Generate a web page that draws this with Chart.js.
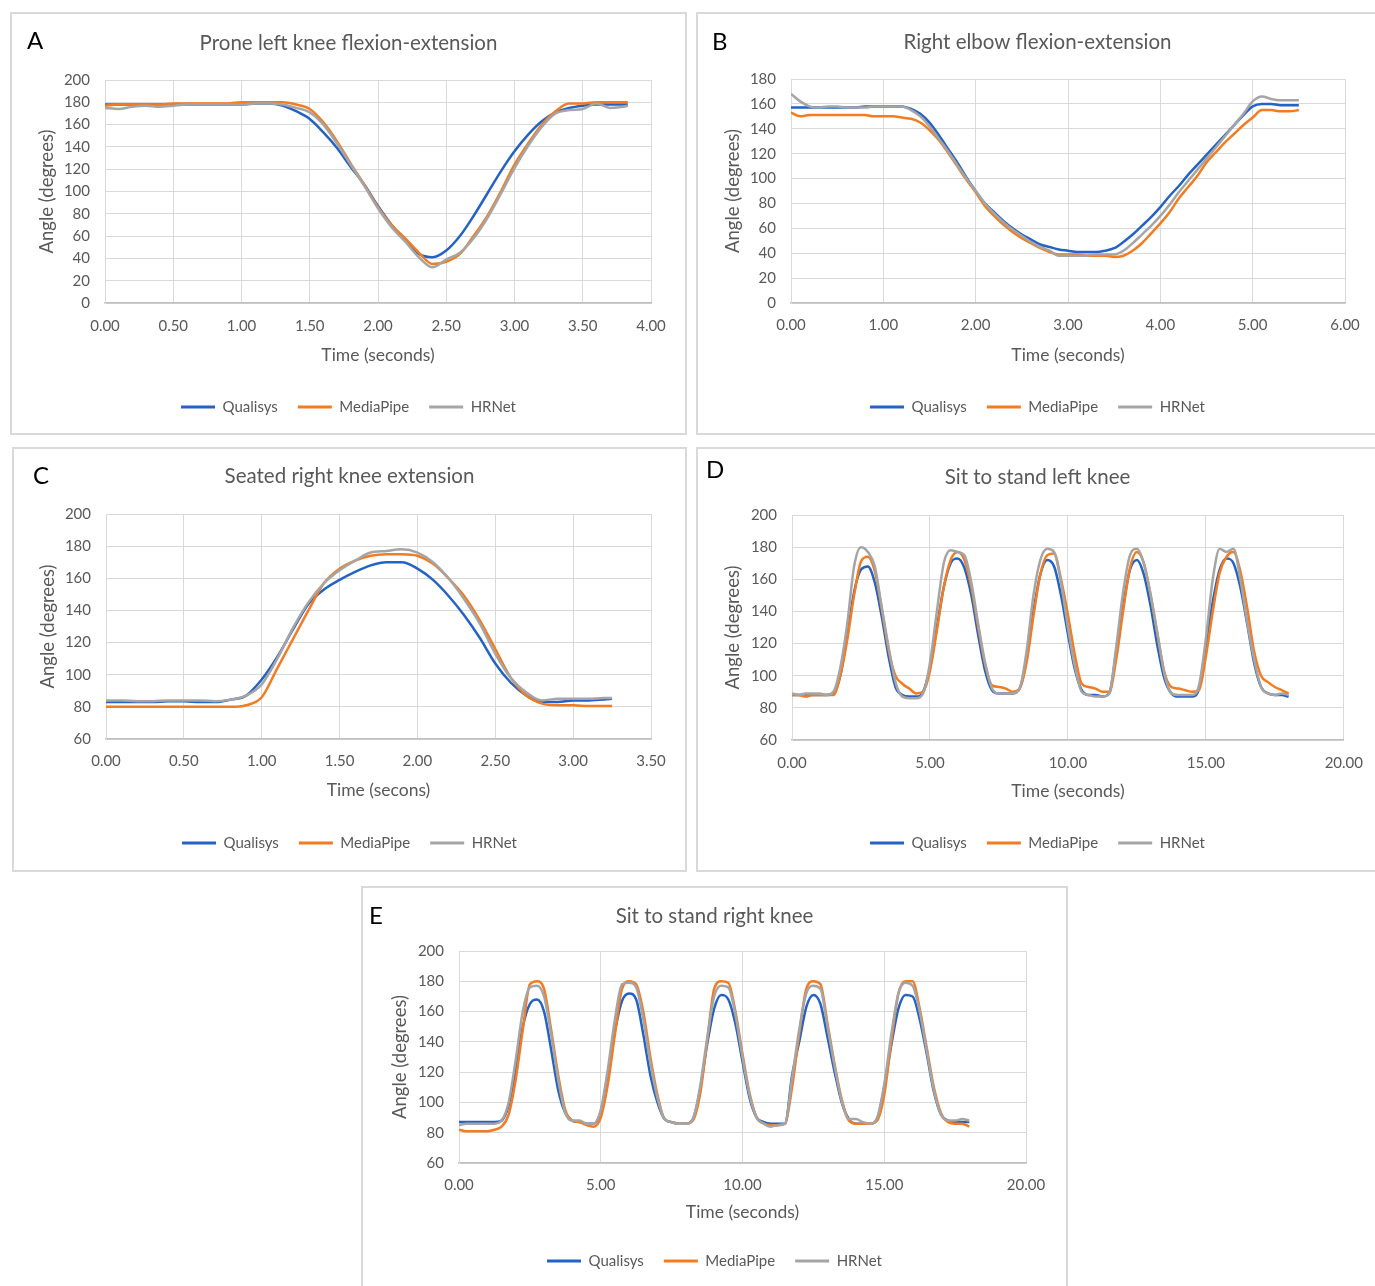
<!DOCTYPE html>
<html>
<head>
<meta charset="utf-8">
<script src="https://cdn.jsdelivr.net/npm/chart.js@4.4.1/dist/chart.umd.min.js"></script>
<style>
html, body { margin: 0; padding: 0; background: #fff; overflow: hidden; width: 1375px; height: 1286px; }
.panel { position: absolute; border: 2px solid #d9d9d9; box-sizing: border-box; background: #fff; overflow: hidden; }
.panel canvas { position: absolute; left: 0; top: 0; }
.tag { position: absolute; font-family: Lato, sans-serif; font-size: 24px; line-height: 24px; color: #000; }
</style>
</head>
<body>
<div class="panel" style="left:10px;top:12px;width:677px;height:423px"><canvas id="chartA"></canvas></div>
<div class="panel" style="left:696px;top:12px;width:683px;height:423px"><canvas id="chartB"></canvas></div>
<div class="panel" style="left:12px;top:447px;width:675px;height:425px"><canvas id="chartC"></canvas></div>
<div class="panel" style="left:696px;top:447px;width:683px;height:425px"><canvas id="chartD"></canvas></div>
<div class="panel" style="left:361px;top:886px;width:707px;height:404px"><canvas id="chartE"></canvas></div>
<div class="tag" style="left:27px;top:28px">A</div>
<div class="tag" style="left:712px;top:29px">B</div>
<div class="tag" style="left:33px;top:463px">C</div>
<div class="tag" style="left:706px;top:457px">D</div>
<div class="tag" style="left:369px;top:903px">E</div>
<script>
// A: prone left knee
const timeA = [0, 0.1, 0.2, 0.3, 0.4, 0.5, 0.6, 0.7, 0.8, 0.9, 1.0, 1.1, 1.2, 1.3, 1.4, 1.5, 1.6, 1.7, 1.8, 1.9,
    2.0, 2.1, 2.2, 2.3, 2.4, 2.5, 2.6, 2.7, 2.8, 2.9, 3.0, 3.1, 3.2, 3.3, 3.4, 3.5, 3.6, 3.7, 3.8, 3.83];
const qualisysA = [178, 178, 178, 178, 178, 178, 178, 178, 178, 178, 178, 179, 179, 177, 172, 165, 153, 139, 122, 106,
    87, 70, 56, 44, 41, 47, 60, 78, 98, 118, 136, 151, 163, 171, 175, 177, 178, 178, 178, 178];
const mediapipeA = [177, 178, 178, 178, 178, 179, 179, 179, 179, 179, 180, 180, 180, 180, 178, 174, 162, 145, 125, 106,
    86, 70, 58, 45, 35, 37, 44, 60, 78, 100, 124, 143, 160, 172, 179, 179, 180, 180, 180, 180];
const hrnetA = [175, 174, 176, 177, 176, 177, 178, 178, 178, 178, 178, 179, 179, 178, 175, 171, 160, 143, 124, 105,
    85, 68, 55, 41, 32, 39, 45, 58, 76, 98, 121, 141, 158, 170, 173, 174, 179, 175, 176, 177];

// B: right elbow
const timeB = [0, 0.1, 0.2, 0.3, 0.4, 0.5, 0.6, 0.7, 0.8, 0.9, 1.0, 1.1, 1.2, 1.3, 1.4, 1.5, 1.6, 1.7, 1.8, 1.9,
    2.0, 2.1, 2.2, 2.3, 2.4, 2.5, 2.6, 2.7, 2.8, 2.9, 3.0, 3.1, 3.2, 3.3, 3.4, 3.5, 3.6, 3.7, 3.8, 3.9,
    4.0, 4.1, 4.2, 4.3, 4.4, 4.5, 4.6, 4.7, 4.8, 4.9, 5.0, 5.1, 5.2, 5.3, 5.4, 5.5];
const qualisysB = [157, 157, 157, 157, 157, 157, 157, 157, 158, 158, 158, 158, 158, 156, 152, 145, 135, 124, 113, 101,
    90, 80, 73, 66, 60, 55, 51, 47, 45, 43, 42, 41, 41, 41, 42, 44, 49, 55, 62, 69,
    77, 86, 94, 103, 111, 119, 127, 135, 143, 151, 158, 160, 160, 159, 159, 159];
const mediapipeB = [153, 150, 151, 151, 151, 151, 151, 151, 151, 150, 150, 150, 149, 148, 145, 139, 131, 121, 110, 99,
    89, 78, 70, 63, 57, 52, 48, 44, 41, 39, 39, 39, 38, 38, 38, 37, 38, 42, 48, 56,
    64, 73, 84, 93, 102, 113, 121, 129, 136, 143, 149, 155, 155, 154, 154, 155];
const hrnetB = [168, 162, 158, 157, 158, 158, 157, 157, 157, 158, 158, 158, 158, 155, 150, 142, 132, 122, 111, 100,
    90, 80, 72, 65, 59, 54, 49, 45, 42, 38, 38, 38, 38, 39, 39, 39, 42, 48, 55, 62,
    70, 79, 89, 98, 107, 116, 125, 134, 143, 152, 162, 166, 164, 163, 163, 163];

// C: seated right knee
const timeC = [0, 0.1, 0.2, 0.3, 0.4, 0.5, 0.6, 0.7, 0.8, 0.9, 1.0, 1.1, 1.2, 1.3, 1.4, 1.5, 1.6, 1.7, 1.8, 1.9,
    2.0, 2.1, 2.2, 2.3, 2.4, 2.5, 2.6, 2.7, 2.8, 2.9, 3.0, 3.1, 3.2, 3.25];
const qualisysC = [83, 83, 83, 83, 83.5, 83.5, 83, 83, 84.5, 87, 97, 111, 128, 144, 153, 159, 164, 168, 170, 170,
    166, 159, 149, 137, 123, 107, 95, 87, 83, 83, 84, 84, 84.5, 85];
const mediapipeC = [80, 80, 80, 80, 80, 80, 80, 80, 80, 81, 86, 104, 122, 140, 157, 166, 171, 174, 175, 175,
    174, 169, 160, 149, 134, 116, 98, 87, 82, 81, 81, 80.5, 80.5, 80.5];
const hrnetC = [84, 84, 83.5, 83.5, 84, 84, 84, 83.5, 84.5, 87, 94, 110, 129, 145, 157, 165, 171, 176, 177, 178,
    176, 170, 160, 147, 132, 113, 98, 89, 84, 85, 85, 85, 85.5, 85.5];

// D: sit to stand left knee
const timeD = [0, 0.25, 0.5, 0.75, 1, 1.25, 1.5, 1.75, 2, 2.25, 2.5, 2.75, 3, 3.25, 3.5, 3.75, 4, 4.25, 4.5, 4.75,
    5, 5.25, 5.5, 5.75, 6, 6.25, 6.5, 6.75, 7, 7.25, 7.5, 7.75, 8, 8.25, 8.5, 8.75, 9, 9.25, 9.5, 9.75,
    10, 10.25, 10.5, 10.75, 11, 11.25, 11.5, 11.75, 12, 12.25, 12.5, 12.75, 13, 13.25, 13.5, 13.75, 14, 14.25, 14.5, 14.75,
    15, 15.25, 15.5, 15.75, 16, 16.25, 16.5, 16.75, 17, 17.25, 17.5, 17.75, 18];
const qualisysD = [88, 88, 88, 88, 88, 88, 89, 100, 125, 152, 166, 168, 158, 137, 112, 93, 88, 87, 87, 90,
    105, 130, 155, 170, 173, 167, 150, 125, 103, 91, 89, 89, 89, 92, 110, 140, 163, 172, 168, 150,
    126, 104, 91, 88, 88, 87, 89, 115, 143, 166, 172, 163, 143, 118, 98, 89, 87, 87, 87, 92,
    118, 146, 166, 173, 170, 155, 132, 108, 93, 89, 88, 88, 87];
const mediapipeD = [88, 88, 87, 88, 88, 88, 88, 100, 122, 150, 171, 174, 165, 142, 116, 100, 95, 92, 89, 90,
    103, 128, 155, 172, 177, 172, 155, 130, 107, 94, 93, 92, 90, 92, 108, 137, 163, 175, 176, 160,
    138, 113, 95, 93, 92, 90, 90, 110, 140, 167, 177, 170, 150, 125, 102, 93, 92, 91, 90, 91,
    112, 140, 164, 174, 177, 165, 142, 115, 100, 96, 93, 91, 89];
const hrnetD = [89, 88, 89, 89, 89, 88, 90, 105, 132, 168, 180, 177, 168, 143, 118, 96, 87, 86, 86, 89,
    108, 140, 170, 178, 177, 175, 158, 132, 108, 92, 89, 89, 89, 92, 115, 150, 172, 179, 177, 158,
    130, 106, 90, 88, 87, 87, 89, 118, 152, 175, 179, 170, 150, 126, 101, 89, 88, 88, 88, 94,
    123, 160, 179, 177, 179, 160, 133, 110, 93, 89, 88, 89, 88];

// E: sit to stand right knee
const timeE = [0, 0.25, 0.5, 0.75, 1, 1.25, 1.5, 1.75, 2, 2.25, 2.5, 2.75, 3, 3.25, 3.5, 3.75, 4, 4.25, 4.5, 4.75,
    5, 5.25, 5.5, 5.75, 6, 6.25, 6.5, 6.75, 7, 7.25, 7.5, 7.75, 8, 8.25, 8.5, 8.75, 9, 9.25, 9.5, 9.75,
    10, 10.25, 10.5, 10.75, 11, 11.25, 11.5, 11.75, 12, 12.25, 12.5, 12.75, 13, 13.25, 13.5, 13.75, 14, 14.25, 14.5, 14.75,
    15, 15.25, 15.5, 15.75, 16, 16.25, 16.5, 16.75, 17, 17.25, 17.5, 17.75, 18];
const qualisysE = [87, 87, 87, 87, 87, 87, 88, 98, 122, 150, 165, 168, 160, 135, 108, 93, 88, 87, 86, 86,
    94, 118, 147, 167, 172, 168, 145, 118, 100, 89, 87, 86, 86, 89, 108, 138, 162, 171, 168, 152,
    127, 103, 90, 87, 86, 86, 86, 118, 140, 163, 171, 165, 143, 120, 100, 89, 86, 86, 86, 89,
    110, 138, 162, 171, 170, 155, 132, 107, 92, 88, 87, 87, 87];
const mediapipeE = [82, 81, 81, 81, 81, 82, 84, 92, 115, 148, 178, 180, 175, 148, 118, 95, 88, 87, 85, 84,
    90, 112, 145, 175, 180, 178, 160, 130, 105, 89, 87, 86, 86, 88, 105, 140, 175, 180, 179, 160,
    132, 106, 90, 86, 85, 85, 86, 110, 145, 175, 180, 178, 152, 125, 102, 88, 86, 86, 86, 88,
    105, 140, 172, 180, 180, 162, 136, 110, 93, 87, 86, 86, 84];
const hrnetE = [85, 86, 86, 86, 86, 86, 88, 100, 128, 160, 176, 177, 170, 145, 115, 93, 88, 88, 86, 86,
    95, 122, 155, 178, 179, 176, 155, 126, 103, 89, 87, 86, 86, 89, 110, 142, 170, 177, 176, 158,
    130, 105, 90, 86, 84, 85, 86, 116, 148, 172, 177, 175, 150, 124, 101, 89, 89, 87, 86, 90,
    112, 145, 172, 179, 177, 160, 134, 108, 92, 88, 88, 89, 88];

const seriesNames = ['Qualisys', 'MediaPipe', 'HRNet'];
const seriesColors = ['#2462c4', '#f47b20', '#a5a5a5'];
const txt = '#595959';

const panels = [
    { id: 'chartA', title: 'Prone left knee flexion-extension', xTitle: 'Time (seconds)', time: timeA,
      values: [qualisysA, mediapipeA, hrnetA], xMax: 4, xStep: 0.5, yMin: 0, yMax: 200,
      W: 673, H: 419, L: 93, R: 639, T: 66, B: 289, titleY: 29, legendY: 393, xTickY: 312, xTitleY: 341, yTitleX: 35 },
    { id: 'chartB', title: 'Right elbow flexion-extension', xTitle: 'Time (seconds)', time: timeB,
      values: [qualisysB, mediapipeB, hrnetB], xMax: 6, xStep: 1, yMin: 0, yMax: 180,
      W: 679, H: 419, L: 93, R: 647, T: 65, B: 289, titleY: 28, legendY: 393, xTickY: 311, xTitleY: 341, yTitleX: 35 },
    { id: 'chartC', title: 'Seated right knee extension', xTitle: 'Time (secons)', time: timeC,
      values: [qualisysC, mediapipeC, hrnetC], xMax: 3.5, xStep: 0.5, yMin: 60, yMax: 200,
      W: 671, H: 421, L: 92, R: 637, T: 65, B: 290, titleY: 27, legendY: 394, xTickY: 312, xTitleY: 341, yTitleX: 34 },
    { id: 'chartD', title: 'Sit to stand left knee', xTitle: 'Time (seconds)', time: timeD,
      values: [qualisysD, mediapipeD, hrnetD], xMax: 20, xStep: 5, yMin: 60, yMax: 200,
      W: 679, H: 421, L: 94, R: 647, T: 66, B: 291, titleY: 28, legendY: 394, xTickY: 314, xTitleY: 342, yTitleX: 35 },
    { id: 'chartE', title: 'Sit to stand right knee', xTitle: 'Time (seconds)', time: timeE,
      values: [qualisysE, mediapipeE, hrnetE], xMax: 20, xStep: 5, yMin: 60, yMax: 200,
      W: 703, H: 400, L: 96, R: 663, T: 63, B: 275, titleY: 28, legendY: 373, xTickY: 297, xTitleY: 324, yTitleX: 37 }
];

function build(p) {
    const canvas = document.getElementById(p.id);
    canvas.width = p.W;
    canvas.height = p.H;
    const tf = 20.5, tk = 15, xf = 17.5, yf = 18.5, lf = 15, lp = 20;
    const titleTop = p.titleY - 0.6 * tf;
    const padBottom = p.H - p.legendY - (lf / 2 + 10);
    const legendTop = p.H - padBottom - (lf + lp + 10);

    new Chart(canvas, {
        type: 'line',
        data: {
            datasets: seriesNames.map((name, k) => ({
                label: name,
                data: p.time.map((t, i) => ({ x: t, y: p.values[k][i] })),
                borderColor: seriesColors[k],
                backgroundColor: seriesColors[k],
                borderWidth: 2.5,
                pointRadius: 0,
                cubicInterpolationMode: 'monotone',
                order: 3 - k
            }))
        },
        options: {
            responsive: false,
            animation: false,
            layout: { padding: { left: 0, top: 0, right: 0, bottom: padBottom } },
            plugins: {
                title: {
                    display: true,
                    text: p.title,
                    color: txt,
                    font: { family: 'Lato', size: tf, weight: 'normal' },
                    padding: { top: titleTop, bottom: p.T - titleTop - 1.2 * tf }
                },
                legend: {
                    position: 'bottom',
                    labels: {
                        color: txt,
                        font: { family: 'Lato', size: lf },
                        boxWidth: 34,
                        boxHeight: 3,
                        padding: lp,
                        sort: (a, b) => a.datasetIndex - b.datasetIndex,
                        generateLabels: chart => Chart.defaults.plugins.legend.labels.generateLabels(chart)
                            .map(item => Object.assign(item, { lineWidth: 0 }))
                    }
                },
                tooltip: { enabled: false }
            },
            scales: {
                x: {
                    type: 'linear',
                    min: 0,
                    max: p.xMax,
                    ticks: {
                        stepSize: p.xStep,
                        padding: p.xTickY - p.B - 0.6 * tk,
                        color: txt,
                        font: { family: 'Lato', size: tk },
                        callback: v => Number(v).toFixed(2)
                    },
                    grid: { color: '#d9d9d9', drawTicks: false },
                    border: { color: '#bfbfbf', width: 1.5 },
                    title: {
                        display: true,
                        text: p.xTitle,
                        color: txt,
                        font: { family: 'Lato', size: xf },
                        padding: { top: 0, bottom: legendTop - p.xTitleY - 0.6 * xf }
                    },
                    afterFit: s => { s.height = legendTop - p.B; }
                },
                y: {
                    min: p.yMin,
                    max: p.yMax,
                    ticks: {
                        stepSize: 20,
                        padding: 15,
                        color: txt,
                        font: { family: 'Lato', size: tk }
                    },
                    grid: { color: '#d9d9d9', drawTicks: false },
                    border: { color: '#d9d9d9' },
                    title: {
                        display: true,
                        text: 'Angle (degrees)',
                        color: txt,
                        font: { family: 'Lato', size: yf },
                        padding: { top: p.yTitleX - 0.6 * yf, bottom: 0 }
                    },
                    afterFit: s => { s.width = p.L; }
                },
                // empty right-hand gutter so title and legend centre on the whole panel
                gutter: {
                    type: 'linear',
                    position: 'right',
                    grid: { display: false },
                    ticks: { display: false },
                    border: { display: false },
                    afterFit: s => { s.width = p.W - p.R; }
                }
            }
        }
    });
}

panels.forEach(build);
</script>
</body>
</html>
